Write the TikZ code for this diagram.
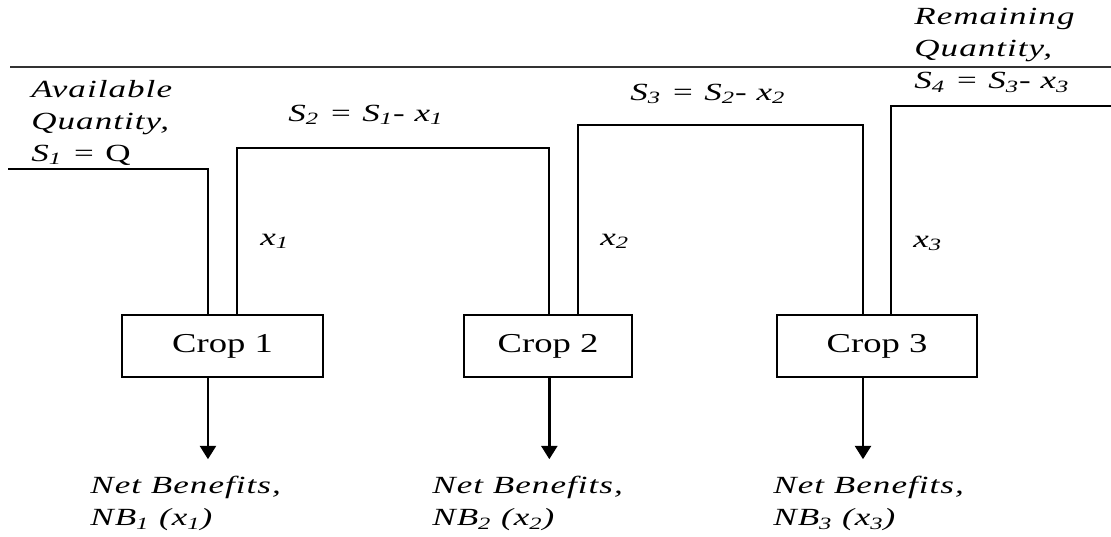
\documentclass[tikz,border=0pt]{standalone}
\usepackage{fontspec}
\setmainfont{Liberation Serif}
\newfontfamily\itf{Liberation Serif}[LetterSpace=3]
\usetikzlibrary{arrows.meta}
\tikzset{
  lbl/.style={font=\itf\itshape\fontsize{18.5}{24}\selectfont, align=left, inner sep=0pt, xscale=1.42, transform shape},
  cropbox/.style={draw, line width=1.8pt, inner sep=0pt, minimum height=46.5pt, font=\fontsize{20.5}{24}\selectfont},
  flow/.style={line width=1.7pt},
  arr/.style={line width=1.8pt, -{Triangle[width=12pt,length=10pt]}},
  topline/.style={line width=1.3pt, draw=black!80}
}
\begin{document}
\begin{tikzpicture}[x=0.75pt,y=-0.75pt]
\useasboundingbox (0,0) rectangle (1111,536);
% top line
\coordinate (tl0) at (10,67);
\coordinate (tl1) at (1111,67);
\draw[topline] (tl0) -- (tl1);
% crop boxes
\node[cropbox, minimum width=150.75pt] (c1) at (222.5,346) {\scalebox{1.34}[1]{Crop 1}};
\node[cropbox, minimum width=126pt] (c2) at (548,346) {\scalebox{1.34}[1]{Crop 2}};
\node[cropbox, minimum width=150pt] (c3) at (877,346) {\scalebox{1.34}[1]{Crop 3}};
% flows
\coordinate (s1) at (8,169);
\coordinate (s4) at (1111,106);
\draw[flow] (s1) -| ([xshift=-10.9pt]c1.north);
\draw[flow] ([xshift=10.9pt]c1.north) -- ++(0,-166) -| ([xshift=1pt]c2.north);
\draw[flow] ([xshift=22.5pt]c2.north) -- ++(0,-189) -| ([xshift=-10.5pt]c3.north);
\draw[flow] ([xshift=10.5pt]c3.north) |- (s4);
% outputs
\draw[arr] ([xshift=-10.9pt]c1.south) -- ++(0,81);
\draw[arr] ([xshift=1pt]c2.south) -- ++(0,81);
\draw[arr] ([xshift=-10.5pt]c3.south) -- ++(0,81);
% labels
\node[lbl, anchor=north west] (avail) at (31,80) {Available\\Quantity,\\S\textsubscript{1} = {\upshape Q}};
\node[lbl, anchor=north west] (rem) at (914,8) {Remaining\\Quantity,\\S\textsubscript{4} = S\textsubscript{3}- x\textsubscript{3}};
\node[lbl, anchor=base west] (s2l) at (288,121) {S\textsubscript{2} = S\textsubscript{1}- x\textsubscript{1}};
\node[lbl, anchor=base west] (s3l) at (630,100) {S\textsubscript{3} = S\textsubscript{2}- x\textsubscript{2}};
\node[lbl, anchor=base west] (x1) at (260,245) {x\textsubscript{1}};
\node[lbl, anchor=base west] (x2) at (600,245) {x\textsubscript{2}};
\node[lbl, anchor=base west] (x3) at (913,247) {x\textsubscript{3}};
\node[lbl, anchor=north west] (nb1) at (90,476) {Net Benefits,\\NB\textsubscript{1} (x\textsubscript{1})};
\node[lbl, anchor=north west] (nb2) at (432,476) {Net Benefits,\\NB\textsubscript{2} (x\textsubscript{2})};
\node[lbl, anchor=north west] (nb3) at (773,476) {Net Benefits,\\NB\textsubscript{3} (x\textsubscript{3})};
\end{tikzpicture}
\end{document}
